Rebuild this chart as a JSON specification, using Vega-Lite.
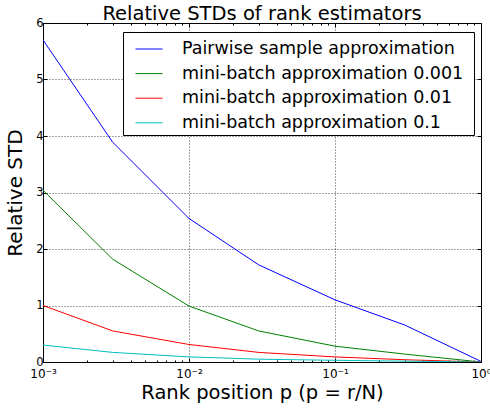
{
  "$schema": "https://vega.github.io/schema/vega-lite/v6.json",
  "width": 438,
  "height": 339,
  "autosize": "none",
  "padding": {"left": 43, "top": 23, "right": 9, "bottom": 48},
  "background": "white",
  "config": {
    "font": "DejaVu Sans",
    "view": {"stroke": "black", "strokeWidth": 1}
  },
  "title": {"text": "Relative STDs of rank estimators", "fontSize": 19.5, "fontWeight": "normal", "font": "DejaVu Sans", "color": "black", "offset": -7},
  "data": {"values": [
    {"series": "Pairwise sample approximation", "p": 0.001, "std": 5.70},
    {"series": "Pairwise sample approximation", "p": 0.003, "std": 3.89},
    {"series": "Pairwise sample approximation", "p": 0.01, "std": 2.54},
    {"series": "Pairwise sample approximation", "p": 0.03, "std": 1.72},
    {"series": "Pairwise sample approximation", "p": 0.1, "std": 1.10},
    {"series": "Pairwise sample approximation", "p": 0.3, "std": 0.655},
    {"series": "Pairwise sample approximation", "p": 1, "std": 0.01},
    {"series": "mini-batch approximation 0.001", "p": 0.001, "std": 3.04},
    {"series": "mini-batch approximation 0.001", "p": 0.003, "std": 1.82},
    {"series": "mini-batch approximation 0.001", "p": 0.01, "std": 0.99},
    {"series": "mini-batch approximation 0.001", "p": 0.03, "std": 0.55},
    {"series": "mini-batch approximation 0.001", "p": 0.1, "std": 0.28},
    {"series": "mini-batch approximation 0.001", "p": 0.3, "std": 0.14},
    {"series": "mini-batch approximation 0.001", "p": 1, "std": 0.0},
    {"series": "mini-batch approximation 0.01", "p": 0.001, "std": 1.0},
    {"series": "mini-batch approximation 0.01", "p": 0.003, "std": 0.55},
    {"series": "mini-batch approximation 0.01", "p": 0.01, "std": 0.31},
    {"series": "mini-batch approximation 0.01", "p": 0.03, "std": 0.17},
    {"series": "mini-batch approximation 0.01", "p": 0.1, "std": 0.09},
    {"series": "mini-batch approximation 0.01", "p": 0.3, "std": 0.04},
    {"series": "mini-batch approximation 0.01", "p": 1, "std": 0.0},
    {"series": "mini-batch approximation 0.1", "p": 0.001, "std": 0.30},
    {"series": "mini-batch approximation 0.1", "p": 0.003, "std": 0.17},
    {"series": "mini-batch approximation 0.1", "p": 0.01, "std": 0.09},
    {"series": "mini-batch approximation 0.1", "p": 0.03, "std": 0.05},
    {"series": "mini-batch approximation 0.1", "p": 0.1, "std": 0.03},
    {"series": "mini-batch approximation 0.1", "p": 0.3, "std": 0.015},
    {"series": "mini-batch approximation 0.1", "p": 1, "std": 0.0}
  ]},
  "layer": [
    {
      "mark": {"type": "line", "strokeWidth": 1, "clip": true},
      "encoding": {
        "x": {"field": "p", "type": "quantitative",
          "scale": {"type": "log", "domain": [0.001, 1], "nice": false},
          "axis": {
            "orient": "bottom",
            "title": "Rank position p (p = r/N)",
            "titleFontSize": 19.5, "titleFontWeight": "normal", "titleColor": "black", "titlePadding": 2,
            "values": [0.001,0.002,0.003,0.004,0.005,0.006,0.007,0.008,0.009,0.01,0.02,0.03,0.04,0.05,0.06,0.07,0.08,0.09,0.1,0.2,0.3,0.4,0.5,0.6,0.7,0.8,0.9,1],
            "labelExpr": "abs(datum.value-0.001)<1e-9 ? '10⁻³' : abs(datum.value-0.01)<1e-9 ? '10⁻²' : abs(datum.value-0.1)<1e-9 ? '10⁻¹' : abs(datum.value-1)<1e-9 ? '10⁰' : ''",
            "labelFontSize": 12, "labelColor": "black", "labelPadding": 10, "labelFlush": false, "labelOverlap": false,
            "domain": false,
            "tickColor": "black",
            "tickSize": {"condition": {"test": "abs(log(datum.value)/LN10 - round(log(datum.value)/LN10)) < 1e-6", "value": -4}, "value": -2},
            "grid": true, "gridColor": "black", "gridDash": [1, 2],
            "gridOpacity": {"condition": {"test": "abs(log(datum.value)/LN10 - round(log(datum.value)/LN10)) < 1e-6", "value": 0.7}, "value": 0}
          }
        },
        "y": {"field": "std", "type": "quantitative",
          "scale": {"domain": [0, 6], "nice": false},
          "axis": {
            "orient": "left",
            "title": "Relative STD",
            "titleFontSize": 20, "titleFontWeight": "normal", "titleColor": "black", "titlePadding": 10,
            "values": [0,1,2,3,4,5,6],
            "labelFontSize": 11.5, "labelColor": "black", "labelPadding": 4,
            "domain": false, "tickColor": "black", "tickSize": -4,
            "grid": true, "gridColor": "black", "gridDash": [1, 2], "gridOpacity": 0.7
          }
        },
        "color": {"field": "series", "type": "nominal",
          "scale": {
            "domain": ["Pairwise sample approximation", "mini-batch approximation 0.001", "mini-batch approximation 0.01", "mini-batch approximation 0.1"],
            "range": ["#0000ff", "#008000", "#ff0000", "#00bfbf"]
          },
          "legend": {
            "title": " ", "titleOrient": "right", "titlePadding": 8, "titleFontSize": 10,
            "orient": "none", "legendX": 80, "legendY": 9,
            "symbolType": "stroke", "symbolSize": 729, "symbolStrokeWidth": 1, "symbolOffset": 9,
            "labelFontSize": 17.5, "labelColor": "black", "labelOffset": 19,
            "fillColor": "white", "strokeColor": "black", "padding": 3,
            "rowPadding": 1.6, "labelLimit": 400
          }
        }
      }
    },
    {
      "mark": {"type": "line", "opacity": 0},
      "encoding": {
        "x": {"field": "p", "type": "quantitative",
          "scale": {"type": "log", "domain": [0.001, 1], "nice": false},
          "axis": {
            "orient": "top", "title": null, "labels": false, "domain": false, "grid": false,
            "values": [0.001,0.002,0.003,0.004,0.005,0.006,0.007,0.008,0.009,0.01,0.02,0.03,0.04,0.05,0.06,0.07,0.08,0.09,0.1,0.2,0.3,0.4,0.5,0.6,0.7,0.8,0.9,1],
            "tickColor": "black",
            "tickSize": {"condition": {"test": "abs(log(datum.value)/LN10 - round(log(datum.value)/LN10)) < 1e-6", "value": -4}, "value": -2}
          }
        },
        "y": {"field": "std", "type": "quantitative",
          "scale": {"domain": [0, 6], "nice": false},
          "axis": {
            "orient": "right", "title": null, "labels": false, "domain": false, "grid": false,
            "values": [0,1,2,3,4,5,6], "tickColor": "black", "tickSize": -4
          }
        },
        "detail": {"field": "series", "type": "nominal"}
      }
    }
  ],
  "resolve": {"axis": {"x": "independent", "y": "independent"}}
}
